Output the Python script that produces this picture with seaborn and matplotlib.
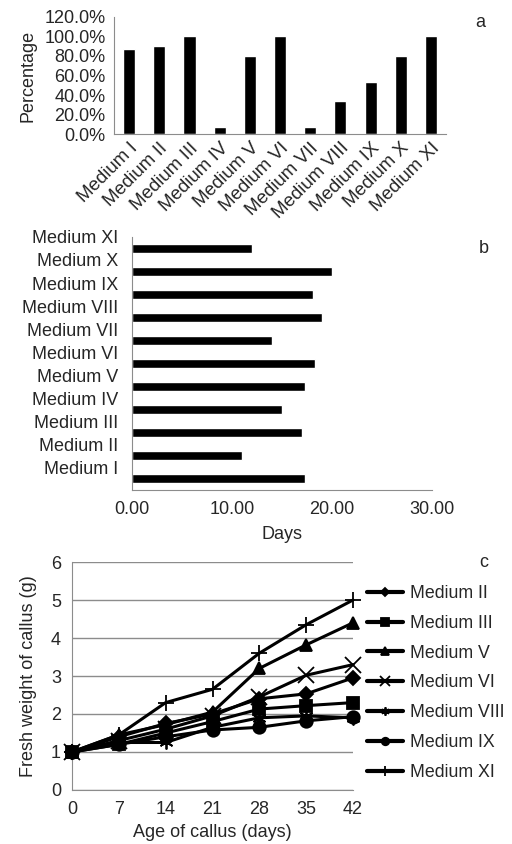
import numpy as np
import pandas as pd
import matplotlib
matplotlib.use('Agg')
import matplotlib.pyplot as plt
import matplotlib.transforms as mtransforms
import seaborn as sns

sns.set_style('white')
plt.rcParams['font.family'] = ['Liberation Sans', 'DejaVu Sans']
FS = 13

# --- data ---
media = ['Medium I', 'Medium II', 'Medium III', 'Medium IV', 'Medium V', 'Medium VI',
         'Medium VII', 'Medium VIII', 'Medium IX', 'Medium X', 'Medium XI']
# a: percentage of callus induction
pct = [0.87, 0.90, 1.00, 0.07, 0.80, 1.00, 0.07, 0.34, 0.53, 0.80, 1.00]
# b: days to callus induction (bars sit one slot below their label, as in the original)
days_bar = [17.3, 11.0, 17.0, 15.0, 17.3, 18.3, 14.0, 19.0, 18.1, 20.0, 12.0]

# c: fresh weight over time
age = [0, 7, 14, 21, 28, 35, 42]
w_II = [1, 1.40, 1.75, 2.00, 2.40, 2.53, 2.95]
w_III = [1, 1.20, 1.50, 1.80, 2.13, 2.22, 2.30]
w_V = [1, 1.45, 1.72, 2.05, 3.20, 3.82, 4.40]
w_VI = [1, 1.30, 1.60, 1.95, 2.45, 3.02, 3.30]
w_VIII = [1, 1.25, 1.25, 1.65, 1.90, 1.95, 1.90]
w_IX = [1, 1.20, 1.40, 1.58, 1.65, 1.82, 1.93]
w_XI = [1, 1.45, 2.30, 2.65, 3.60, 4.35, 5.00]

fig = plt.figure(figsize=(5.12, 8.44), dpi=100)
grey = '#8c8c8c'

# ---------- panel a ----------
ax1 = fig.add_axes([0.2227, 0.8412, 0.6484, 0.1387])
dfa = pd.DataFrame({'medium': media, 'pct': pct})
sns.barplot(data=dfa, x='medium', y='pct', color='black', width=0.4, ax=ax1,
            saturation=1)
ax1.set_ylim(0, 1.2)
ax1.set_xlim(-0.5, 10.5)
ax1.set_yticks(np.arange(0, 1.21, 0.2))
ax1.set_yticklabels([f'{v*100:.1f}%' for v in np.arange(0, 1.21, 0.2)], fontsize=FS)
ax1.set_xticks(np.arange(11))
ax1.set_xticklabels(media, rotation=45, ha='right', rotation_mode='anchor', fontsize=13.5)
shift = mtransforms.ScaledTranslation(-0.13, 0.02, fig.dpi_scale_trans)
for lab in ax1.get_xticklabels():
    lab.set_transform(lab.get_transform() + shift)
ax1.set_xticks(np.arange(-0.5, 11, 1), minor=True)
ax1.tick_params(axis='x', which='major', length=0, pad=4)
ax1.tick_params(axis='x', which='minor', length=4, color=grey, direction='out')
ax1.tick_params(axis='y', length=4, color=grey, direction='out', pad=2)
ax1.set_xlabel('')
ax1.set_ylabel('Percentage', fontsize=FS, labelpad=6)
for s in ['top', 'right']:
    ax1.spines[s].set_visible(False)
for s in ['left', 'bottom']:
    ax1.spines[s].set_color(grey)
fig.text(0.938, 0.984, 'a', fontsize=FS, ha='center', va='top')

# ---------- panel b ----------
ax2 = fig.add_axes([0.2578, 0.4194, 0.5859, 0.2998])
order_b = media[::-1]
dfb = pd.DataFrame({'medium': media, 'days': days_bar})
sns.barplot(data=dfb, y='medium', x='days', order=order_b, color='black', width=0.38,
            orient='h', ax=ax2, saturation=1)
ax2.set_xlim(0, 30)
ax2.set_ylim(10.5, -0.5)
ax2.set_xticks([0, 10, 20, 30])
ax2.set_xticklabels(['0.00', '10.00', '20.00', '30.00'], fontsize=FS)
ax2.set_yticks(np.arange(-0.5, 11, 1))
ax2.set_yticklabels(order_b + [''], fontsize=FS)
ax2.tick_params(axis='y', length=4, color=grey, direction='out', pad=6)
ax2.tick_params(axis='x', length=4, color=grey, direction='out', pad=4)
ax2.set_ylabel('')
ax2.set_xlabel('Days', fontsize=FS, labelpad=6)
for s in ['top', 'right']:
    ax2.spines[s].set_visible(False)
for s in ['left', 'bottom']:
    ax2.spines[s].set_color(grey)
fig.text(0.945, 0.706, 'b', fontsize=FS, ha='center', va='center')

# ---------- panel c ----------
ax3 = fig.add_axes([0.1406, 0.064, 0.5489, 0.2701])
series = {'Medium II': w_II, 'Medium III': w_III, 'Medium V': w_V, 'Medium VI': w_VI,
          'Medium VIII': w_VIII, 'Medium IX': w_IX, 'Medium XI': w_XI}
markers = {'Medium II': 'D', 'Medium III': 's', 'Medium V': '^', 'Medium VI': 'x',
           'Medium VIII': (6, 2, 0), 'Medium IX': 'o', 'Medium XI': '+'}
msize = {'Medium II': 7, 'Medium III': 8.5, 'Medium V': 9, 'Medium VI': 11,
         'Medium VIII': 10, 'Medium IX': 9, 'Medium XI': 12}
rows = []
for name, vals in series.items():
    for d, v in zip(age, vals):
        rows.append({'medium': name, 'age': d, 'weight': v})
dfc = pd.DataFrame(rows)
for name in series:
    sub = dfc[dfc['medium'] == name]
    sns.lineplot(data=sub, x='age', y='weight', color='black', lw=2.2,
                 marker=markers[name], markersize=msize[name], markeredgewidth=1.3,
                 markeredgecolor='black', label=name, ax=ax3, clip_on=False, zorder=3)
ax3.set_xlim(0, 42)
ax3.set_ylim(0, 6)
ax3.set_xticks(age)
ax3.set_xticklabels([str(a) for a in age], fontsize=FS)
ax3.set_yticks(range(7))
ax3.set_yticklabels([str(i) for i in range(7)], fontsize=FS)
ax3.yaxis.grid(True, color=grey, lw=1)
ax3.xaxis.grid(False)
ax3.tick_params(axis='both', length=0, pad=8)
ax3.set_xlabel('Age of callus (days)', fontsize=FS, labelpad=4)
ax3.set_ylabel('Fresh weight of callus (g)', fontsize=FS, labelpad=10)
for s in ['top', 'right']:
    ax3.spines[s].set_visible(False)
for s in ['left', 'bottom']:
    ax3.spines[s].set_color(grey)
h, l = ax3.get_legend_handles_labels()
leg = ax3.legend(h, l, loc='upper left', bbox_to_anchor=(1.025, 0.93), frameon=False,
                 fontsize=12.8, handlelength=2.0, labelspacing=0.72, handletextpad=0.4,
                 borderaxespad=0, markerscale=0.6)
for ln in leg.get_lines():
    ln.set_linewidth(3)
fig.text(0.945, 0.334, 'c', fontsize=FS, ha='center', va='center')

fig.savefig('out.png', dpi=100)
